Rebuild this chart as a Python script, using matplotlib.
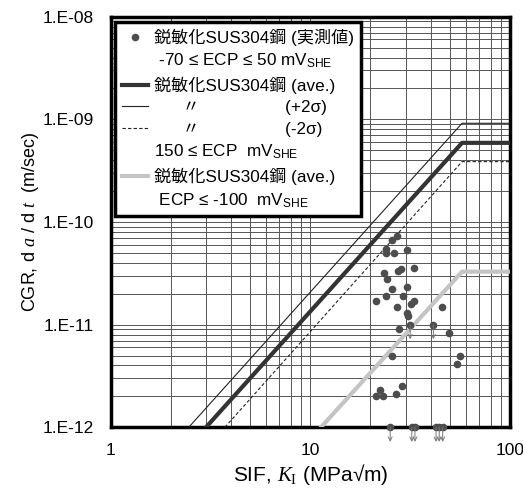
import matplotlib
matplotlib.use("Agg")
import matplotlib.pyplot as plt
from matplotlib.lines import Line2D
from matplotlib.ticker import LogLocator, NullFormatter

plt.rcParams['font.family'] = ['Liberation Sans', 'Noto Sans CJK JP', 'DejaVu Sans']
plt.rcParams['mathtext.fontset'] = 'custom'
plt.rcParams['mathtext.rm'] = 'Liberation Sans'
plt.rcParams['mathtext.it'] = 'Liberation Serif:italic'
plt.rcParams['mathtext.sf'] = 'Liberation Serif'

# -----------------------
# Data
# -----------------------
# measured CGR of sensitized SUS304, -70 <= ECP <= 50 mV_SHE
k_meas = [27.1, 25.6, 23.9, 23.9, 26.2, 30.4, 28.4, 33.1, 27.6, 23.5,
          24.1, 25.7, 30.6, 23.9, 29.2, 21.3, 33.1, 31.8, 27.1, 45.8,
          30.4, 30.7, 27.9, 49.7, 25.6, 56.2, 54.5, 28.7, 22.3, 21.3,
          23.2, 26.9]
cgr_meas = [7.3e-11, 6.7e-11, 5.5e-11, 5.0e-11, 5.0e-11, 5.3e-11, 3.5e-11, 3.6e-11,
            3.3e-11, 3.2e-11, 2.8e-11, 2.2e-11, 2.3e-11, 1.9e-11, 1.9e-11, 1.7e-11,
            1.7e-11, 1.6e-11, 1.5e-11, 1.5e-11, 1.3e-11, 1.2e-11, 9.1e-12, 8.2e-12,
            4.9e-12, 4.9e-12, 4.1e-12, 2.5e-12, 2.3e-12, 2.0e-12, 2.0e-12, 2.1e-12]

# upper-bound values (shown with a down arrow)
k_ub = [31.6, 41.3, 25.1, 32.2, 33.4, 42.6, 44.2, 46.0]
cgr_ub = [1.0e-11, 1.0e-11, 1.0e-12, 1.0e-12, 1.0e-12, 1.0e-12, 1.0e-12, 1.0e-12]

# disposition curves
k_ave = [3.0, 57.5, 100]
cgr_ave = [1.0e-12, 5.9e-10, 5.9e-10]
k_p2s = [2.46, 57.5, 100]
cgr_p2s = [1.0e-12, 9.15e-10, 9.15e-10]
k_m2s = [3.73, 57.5, 100]
cgr_m2s = [1.0e-12, 3.87e-10, 3.87e-10]
k_low = [11.3, 57.5, 100]
cgr_low = [1.0e-12, 3.28e-11, 3.28e-11]

xticks = [1, 10, 100]
xtick_labels = ["1", "10", "100"]
yticks = [1e-12, 1e-11, 1e-10, 1e-9, 1e-8]
ytick_labels = ["1.E-12", "1.E-11", "1.E-10", "1.E-09", "1.E-08"]

# -----------------------
# Plot
# -----------------------
fig = plt.figure(figsize=(5.23, 4.93), dpi=100)
ax = fig.add_axes([0.2117, 0.1333, 0.7635, 0.8329])
ax.set_xscale("log")
ax.set_yscale("log")
ax.set_xlim(1, 100)
ax.set_ylim(1e-12, 1e-8)

ax.plot(k_p2s, cgr_p2s, color="#222222", lw=0.8, zorder=3)
ax.plot(k_ave, cgr_ave, color="#333333", lw=3.0, zorder=3)
ax.plot(k_m2s, cgr_m2s, color="#222222", lw=0.8, ls=(0, (3, 2)), zorder=3)
ax.plot(k_low, cgr_low, color="#c4c4c4", lw=3.0, zorder=3)

ax.plot(k_meas, cgr_meas, "o", color="#4d4d4d", ms=5.5, mew=0, zorder=4)
ax.plot(k_ub, cgr_ub, "o", color="#4d4d4d", ms=5.5, mew=0, zorder=4, clip_on=False)
for k, c in zip(k_ub, cgr_ub):
    ax.annotate("", xy=(k, c * 0.72), xytext=(k, c), annotation_clip=False,
                arrowprops=dict(arrowstyle="->", color="#777777", lw=0.7,
                                shrinkA=0, shrinkB=0, mutation_scale=7), zorder=4)

ax.xaxis.set_minor_locator(LogLocator(base=10, subs=range(2, 10)))
ax.yaxis.set_minor_locator(LogLocator(base=10, subs=range(2, 10)))
ax.xaxis.set_minor_formatter(NullFormatter())
ax.yaxis.set_minor_formatter(NullFormatter())
ax.set_xticks(xticks, xtick_labels)
ax.set_yticks(yticks, ytick_labels)
ax.tick_params(which="both", length=0, labelsize=12.5)
ax.tick_params(axis="x", pad=11)
ax.tick_params(axis="y", pad=12)
ax.grid(True, which="both", color="#555555", lw=0.7, zorder=1)
ax.set_axisbelow(True)
for s in ax.spines.values():
    s.set_linewidth(2.5)

ax.set_xlabel("SIF, $K_{\\mathsf{I}}$ (MPa√m)", fontsize=15, labelpad=3)
ax.set_ylabel("CGR, d $a$ / d $t$  (m/sec)", fontsize=13, labelpad=1)

blank = Line2D([], [], ls="none")
handles = [
    Line2D([], [], ls="none", marker="o", color="#4d4d4d", ms=5.5, mew=0),
    blank,
    Line2D([], [], color="#333333", lw=3.0),
    Line2D([], [], color="#222222", lw=0.8),
    Line2D([], [], color="#222222", lw=0.8, ls=(0, (3, 2))),
    blank,
    Line2D([], [], color="#c4c4c4", lw=3.0),
    blank,
]
labels = [
    "鋭敏化SUS304鋼 (実測値)",
    " -70 ≤ ECP ≤ 50 mV$_{\\mathrm{SHE}}$",
    "鋭敏化SUS304鋼 (ave.)",
    "      〃                  (+2σ)",
    "      〃                  (-2σ)",
    "150 ≤ ECP  mV$_{\\mathrm{SHE}}$",
    "鋭敏化SUS304鋼 (ave.)",
    " ECP ≤ -100  mV$_{\\mathrm{SHE}}$",
]
leg = ax.legend(handles, labels, loc="upper left", bbox_to_anchor=(0.0108, 0.9878),
                borderaxespad=0, fontsize=12.3, handlelength=1.55, handletextpad=0.35,
                labelspacing=0.37, fancybox=False, framealpha=1, edgecolor="black",
                borderpad=0.4)
leg.get_frame().set_linewidth(2.5)
leg.set_zorder(10)

fig.savefig("out.png", dpi=100)
